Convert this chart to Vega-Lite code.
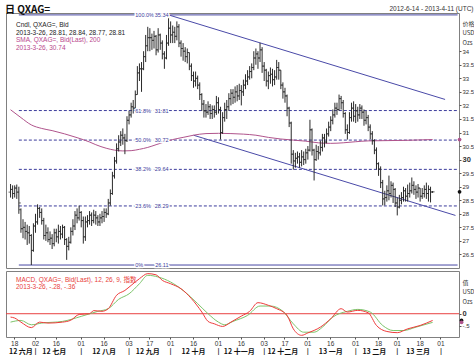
{
"$schema": "https://vega.github.io/schema/vega-lite/v6.json",
"padding": {"left": 5, "top": 4, "right": 0, "bottom": 0},
"background": "white",
"spacing": 0,
"title": {"text": "日 QXAG=", "anchor": "start", "fontSize": 10, "fontWeight": "bold", "font": "Noto Sans CJK SC", "color": "#111", "offset": -10},
"datasets": {
"bars": [
{"d":"2012-06-14","o":28.80,"h":29.10,"l":28.60,"c":28.90},
{"d":"2012-06-15","o":28.90,"h":29.05,"l":28.55,"c":28.75},
{"d":"2012-06-18","o":28.75,"h":29.05,"l":28.60,"c":28.95},
{"d":"2012-06-19","o":28.95,"h":29.08,"l":28.55,"c":28.80},
{"d":"2012-06-20","o":28.80,"h":29.00,"l":28.00,"c":28.40},
{"d":"2012-06-21","o":28.15,"h":28.20,"l":27.30,"c":27.45},
{"d":"2012-06-22","o":27.45,"h":27.80,"l":27.10,"c":27.50},
{"d":"2012-06-25","o":27.50,"h":27.70,"l":27.05,"c":27.35},
{"d":"2012-06-26","o":27.35,"h":27.60,"l":26.85,"c":27.30},
{"d":"2012-06-27","o":27.30,"h":27.55,"l":26.90,"c":27.20},
{"d":"2012-06-28","o":27.20,"h":27.25,"l":26.11,"c":26.65},
{"d":"2012-06-29","o":26.65,"h":27.65,"l":26.60,"c":27.55},
{"d":"2012-07-02","o":27.55,"h":28.00,"l":27.30,"c":27.70},
{"d":"2012-07-03","o":27.70,"h":28.35,"l":27.60,"c":28.20},
{"d":"2012-07-04","o":28.20,"h":28.25,"l":27.85,"c":28.05},
{"d":"2012-07-05","o":28.05,"h":28.20,"l":27.60,"c":27.75},
{"d":"2012-07-06","o":27.75,"h":27.85,"l":27.05,"c":27.20},
{"d":"2012-07-09","o":27.20,"h":27.60,"l":27.00,"c":27.30},
{"d":"2012-07-10","o":27.30,"h":27.50,"l":26.95,"c":27.05},
{"d":"2012-07-11","o":27.05,"h":27.35,"l":26.85,"c":27.10},
{"d":"2012-07-12","o":27.10,"h":27.25,"l":26.70,"c":26.90},
{"d":"2012-07-13","o":26.90,"h":27.45,"l":26.80,"c":27.30},
{"d":"2012-07-16","o":27.30,"h":27.45,"l":26.95,"c":27.15},
{"d":"2012-07-17","o":27.15,"h":27.60,"l":26.90,"c":27.35},
{"d":"2012-07-18","o":27.35,"h":27.55,"l":27.05,"c":27.25},
{"d":"2012-07-19","o":27.25,"h":27.60,"l":27.10,"c":27.50},
{"d":"2012-07-20","o":27.50,"h":27.55,"l":26.85,"c":27.05},
{"d":"2012-07-23","o":27.05,"h":27.10,"l":26.30,"c":26.80},
{"d":"2012-07-24","o":26.80,"h":27.15,"l":26.65,"c":26.95},
{"d":"2012-07-25","o":26.95,"h":27.50,"l":26.90,"c":27.35},
{"d":"2012-07-26","o":27.35,"h":27.80,"l":27.20,"c":27.55},
{"d":"2012-07-27","o":27.55,"h":28.10,"l":27.40,"c":27.95},
{"d":"2012-07-30","o":27.95,"h":28.20,"l":27.65,"c":27.85},
{"d":"2012-07-31","o":27.85,"h":28.30,"l":27.75,"c":28.05},
{"d":"2012-08-01","o":28.05,"h":28.10,"l":27.50,"c":27.75},
{"d":"2012-08-02","o":27.75,"h":27.90,"l":26.90,"c":27.15},
{"d":"2012-08-03","o":27.15,"h":27.90,"l":27.00,"c":27.70},
{"d":"2012-08-06","o":27.70,"h":27.95,"l":27.50,"c":27.75},
{"d":"2012-08-07","o":27.75,"h":28.10,"l":27.60,"c":27.95},
{"d":"2012-08-08","o":27.95,"h":28.05,"l":27.55,"c":27.75},
{"d":"2012-08-09","o":27.75,"h":28.15,"l":27.65,"c":27.95},
{"d":"2012-08-10","o":27.95,"h":28.10,"l":27.60,"c":27.85},
{"d":"2012-08-13","o":27.85,"h":27.95,"l":27.55,"c":27.70},
{"d":"2012-08-14","o":27.70,"h":28.00,"l":27.55,"c":27.85},
{"d":"2012-08-15","o":27.85,"h":28.10,"l":27.65,"c":27.90},
{"d":"2012-08-16","o":27.90,"h":28.20,"l":27.70,"c":28.05},
{"d":"2012-08-17","o":28.05,"h":28.20,"l":27.85,"c":28.00},
{"d":"2012-08-20","o":28.00,"h":28.55,"l":27.95,"c":28.40},
{"d":"2012-08-21","o":28.40,"h":28.90,"l":28.30,"c":28.75},
{"d":"2012-08-22","o":28.75,"h":29.55,"l":28.70,"c":29.40},
{"d":"2012-08-23","o":29.40,"h":30.10,"l":29.30,"c":29.95},
{"d":"2012-08-24","o":29.95,"h":30.60,"l":29.85,"c":30.40},
{"d":"2012-08-27","o":30.40,"h":30.90,"l":30.30,"c":30.65},
{"d":"2012-08-28","o":30.65,"h":31.05,"l":30.50,"c":30.90},
{"d":"2012-08-29","o":30.90,"h":31.15,"l":30.55,"c":30.80},
{"d":"2012-08-30","o":30.80,"h":30.95,"l":30.20,"c":30.70},
{"d":"2012-08-31","o":30.70,"h":31.60,"l":30.65,"c":31.45},
{"d":"2012-09-03","o":31.45,"h":31.80,"l":31.30,"c":31.65},
{"d":"2012-09-04","o":31.65,"h":32.10,"l":31.55,"c":31.95},
{"d":"2012-09-05","o":31.95,"h":32.20,"l":31.70,"c":31.90},
{"d":"2012-09-06","o":31.90,"h":32.55,"l":31.80,"c":32.40},
{"d":"2012-09-07","o":32.40,"h":33.45,"l":32.40,"c":33.20},
{"d":"2012-09-10","o":33.20,"h":33.55,"l":32.90,"c":33.35},
{"d":"2012-09-11","o":33.35,"h":33.60,"l":32.50,"c":33.35},
{"d":"2012-09-12","o":33.35,"h":34.00,"l":33.30,"c":33.80},
{"d":"2012-09-13","o":33.80,"h":34.60,"l":33.60,"c":34.20},
{"d":"2012-09-14","o":34.20,"h":34.90,"l":34.00,"c":34.50},
{"d":"2012-09-17","o":34.50,"h":34.85,"l":34.00,"c":34.50},
{"d":"2012-09-18","o":34.50,"h":34.65,"l":34.05,"c":34.40},
{"d":"2012-09-19","o":34.40,"h":34.75,"l":34.10,"c":34.55},
{"d":"2012-09-20","o":34.55,"h":34.60,"l":33.85,"c":34.05},
{"d":"2012-09-21","o":34.05,"h":34.85,"l":33.95,"c":34.60},
{"d":"2012-09-24","o":34.60,"h":34.65,"l":34.05,"c":34.30},
{"d":"2012-09-25","o":34.30,"h":34.40,"l":33.70,"c":33.90},
{"d":"2012-09-26","o":33.90,"h":34.00,"l":33.35,"c":33.75},
{"d":"2012-09-27","o":33.75,"h":34.60,"l":33.70,"c":34.30},
{"d":"2012-09-28","o":34.30,"h":35.34,"l":34.20,"c":34.85},
{"d":"2012-10-01","o":34.85,"h":35.10,"l":34.30,"c":34.60},
{"d":"2012-10-02","o":34.60,"h":34.95,"l":34.30,"c":34.70},
{"d":"2012-10-03","o":34.70,"h":34.90,"l":34.30,"c":34.55},
{"d":"2012-10-04","o":34.55,"h":35.10,"l":34.40,"c":34.90},
{"d":"2012-10-05","o":34.90,"h":35.00,"l":34.15,"c":34.30},
{"d":"2012-10-08","o":34.30,"h":34.40,"l":33.80,"c":34.10},
{"d":"2012-10-09","o":34.10,"h":34.30,"l":33.65,"c":34.00},
{"d":"2012-10-10","o":34.00,"h":34.15,"l":33.60,"c":33.80},
{"d":"2012-10-11","o":33.80,"h":34.10,"l":33.55,"c":33.95},
{"d":"2012-10-12","o":33.95,"h":33.95,"l":33.30,"c":33.45},
{"d":"2012-10-15","o":33.45,"h":33.55,"l":32.90,"c":33.10},
{"d":"2012-10-16","o":33.10,"h":33.25,"l":32.65,"c":32.90},
{"d":"2012-10-17","o":32.90,"h":33.25,"l":32.70,"c":33.00},
{"d":"2012-10-18","o":33.00,"h":33.10,"l":32.60,"c":32.75},
{"d":"2012-10-19","o":32.75,"h":32.85,"l":32.20,"c":32.40},
{"d":"2012-10-22","o":32.40,"h":32.45,"l":31.80,"c":32.05},
{"d":"2012-10-23","o":32.05,"h":32.20,"l":31.55,"c":31.80},
{"d":"2012-10-24","o":31.80,"h":32.05,"l":31.55,"c":31.75},
{"d":"2012-10-25","o":31.75,"h":32.15,"l":31.65,"c":31.95},
{"d":"2012-10-26","o":31.95,"h":32.05,"l":31.50,"c":31.70},
{"d":"2012-10-29","o":31.70,"h":32.00,"l":31.50,"c":31.85},
{"d":"2012-10-30","o":31.85,"h":32.00,"l":31.55,"c":31.75},
{"d":"2012-10-31","o":31.75,"h":32.35,"l":31.65,"c":32.10},
{"d":"2012-11-01","o":32.10,"h":32.30,"l":31.70,"c":31.85},
{"d":"2012-11-02","o":31.85,"h":31.95,"l":30.74,"c":31.00},
{"d":"2012-11-05","o":31.00,"h":31.75,"l":30.95,"c":31.55},
{"d":"2012-11-06","o":31.55,"h":32.10,"l":31.40,"c":31.85},
{"d":"2012-11-07","o":31.85,"h":32.20,"l":31.50,"c":31.95},
{"d":"2012-11-08","o":31.95,"h":32.45,"l":31.80,"c":32.25},
{"d":"2012-11-09","o":32.25,"h":32.60,"l":32.00,"c":32.45},
{"d":"2012-11-12","o":32.45,"h":32.60,"l":32.05,"c":32.30},
{"d":"2012-11-13","o":32.30,"h":32.70,"l":32.10,"c":32.50},
{"d":"2012-11-14","o":32.50,"h":32.75,"l":32.15,"c":32.35},
{"d":"2012-11-15","o":32.35,"h":32.80,"l":32.20,"c":32.55},
{"d":"2012-11-16","o":32.55,"h":32.75,"l":32.00,"c":32.50},
{"d":"2012-11-19","o":32.50,"h":32.95,"l":32.35,"c":32.75},
{"d":"2012-11-20","o":32.75,"h":33.15,"l":32.60,"c":32.90},
{"d":"2012-11-21","o":32.90,"h":33.30,"l":32.75,"c":33.05},
{"d":"2012-11-22","o":33.05,"h":33.45,"l":32.95,"c":33.25},
{"d":"2012-11-23","o":33.25,"h":33.55,"l":33.00,"c":33.40},
{"d":"2012-11-26","o":33.40,"h":34.00,"l":33.30,"c":33.75},
{"d":"2012-11-27","o":33.75,"h":34.10,"l":33.50,"c":33.90},
{"d":"2012-11-28","o":33.90,"h":34.00,"l":33.35,"c":33.75},
{"d":"2012-11-29","o":33.75,"h":34.31,"l":33.60,"c":34.05},
{"d":"2012-11-30","o":34.05,"h":34.15,"l":33.20,"c":33.45},
{"d":"2012-12-03","o":33.45,"h":33.60,"l":32.90,"c":33.30},
{"d":"2012-12-04","o":33.30,"h":33.35,"l":32.70,"c":32.90},
{"d":"2012-12-05","o":32.90,"h":33.25,"l":32.60,"c":33.10},
{"d":"2012-12-06","o":33.10,"h":33.40,"l":32.80,"c":33.15},
{"d":"2012-12-07","o":33.15,"h":33.35,"l":32.70,"c":32.95},
{"d":"2012-12-10","o":32.95,"h":33.30,"l":32.75,"c":33.05},
{"d":"2012-12-11","o":33.05,"h":33.68,"l":32.95,"c":33.40},
{"d":"2012-12-12","o":33.40,"h":33.60,"l":32.95,"c":33.30},
{"d":"2012-12-13","o":33.30,"h":33.30,"l":32.60,"c":32.75},
{"d":"2012-12-14","o":32.75,"h":32.85,"l":32.25,"c":32.50},
{"d":"2012-12-17","o":32.50,"h":32.65,"l":32.10,"c":32.35},
{"d":"2012-12-18","o":32.35,"h":32.40,"l":31.60,"c":31.90},
{"d":"2012-12-19","o":31.90,"h":31.95,"l":31.20,"c":31.35},
{"d":"2012-12-20","o":31.35,"h":31.40,"l":29.85,"c":30.20},
{"d":"2012-12-21","o":30.20,"h":30.35,"l":29.63,"c":29.95},
{"d":"2012-12-24","o":29.95,"h":30.25,"l":29.70,"c":30.05},
{"d":"2012-12-25","o":30.05,"h":30.30,"l":29.85,"c":30.10},
{"d":"2012-12-26","o":30.10,"h":30.25,"l":29.70,"c":29.90},
{"d":"2012-12-27","o":29.90,"h":30.35,"l":29.75,"c":30.10},
{"d":"2012-12-28","o":30.10,"h":30.30,"l":29.80,"c":30.00},
{"d":"2012-12-31","o":30.00,"h":30.40,"l":29.85,"c":30.25},
{"d":"2013-01-01","o":30.25,"h":30.50,"l":30.00,"c":30.35},
{"d":"2013-01-02","o":30.35,"h":31.47,"l":30.30,"c":31.10},
{"d":"2013-01-03","o":31.10,"h":31.15,"l":30.15,"c":30.35},
{"d":"2013-01-04","o":30.35,"h":30.40,"l":29.23,"c":30.00},
{"d":"2013-01-07","o":30.00,"h":30.55,"l":29.95,"c":30.30},
{"d":"2013-01-08","o":30.30,"h":30.50,"l":30.00,"c":30.25},
{"d":"2013-01-09","o":30.25,"h":30.70,"l":30.15,"c":30.45},
{"d":"2013-01-10","o":30.45,"h":30.95,"l":30.30,"c":30.80},
{"d":"2013-01-11","o":30.80,"h":30.95,"l":30.45,"c":30.65},
{"d":"2013-01-14","o":30.65,"h":31.15,"l":30.60,"c":30.95},
{"d":"2013-01-15","o":30.95,"h":31.40,"l":30.85,"c":31.20},
{"d":"2013-01-16","o":31.20,"h":31.60,"l":31.05,"c":31.45},
{"d":"2013-01-17","o":31.45,"h":31.85,"l":31.30,"c":31.65},
{"d":"2013-01-18","o":31.65,"h":32.10,"l":31.55,"c":31.90},
{"d":"2013-01-21","o":31.90,"h":32.10,"l":31.65,"c":31.85},
{"d":"2013-01-22","o":31.85,"h":32.40,"l":31.80,"c":32.25},
{"d":"2013-01-23","o":32.25,"h":32.35,"l":31.85,"c":32.10},
{"d":"2013-01-24","o":32.10,"h":32.20,"l":31.55,"c":31.70},
{"d":"2013-01-25","o":31.70,"h":31.75,"l":30.95,"c":31.10},
{"d":"2013-01-28","o":31.10,"h":31.30,"l":30.74,"c":31.00},
{"d":"2013-01-29","o":31.00,"h":31.75,"l":30.95,"c":31.55},
{"d":"2013-01-30","o":31.55,"h":32.10,"l":31.40,"c":31.90},
{"d":"2013-01-31","o":31.90,"h":32.15,"l":31.40,"c":31.60},
{"d":"2013-02-01","o":31.60,"h":32.05,"l":31.35,"c":31.80},
{"d":"2013-02-04","o":31.80,"h":31.95,"l":31.40,"c":31.65},
{"d":"2013-02-05","o":31.65,"h":32.05,"l":31.50,"c":31.90},
{"d":"2013-02-06","o":31.90,"h":32.00,"l":31.50,"c":31.75},
{"d":"2013-02-07","o":31.75,"h":31.85,"l":31.25,"c":31.45},
{"d":"2013-02-08","o":31.45,"h":31.80,"l":31.30,"c":31.55},
{"d":"2013-02-11","o":31.55,"h":31.65,"l":31.05,"c":31.20},
{"d":"2013-02-12","o":31.20,"h":31.30,"l":30.75,"c":30.95},
{"d":"2013-02-13","o":30.95,"h":31.05,"l":30.55,"c":30.70},
{"d":"2013-02-14","o":30.70,"h":30.75,"l":30.20,"c":30.35},
{"d":"2013-02-15","o":30.35,"h":30.45,"l":29.63,"c":29.85},
{"d":"2013-02-18","o":29.85,"h":29.90,"l":29.40,"c":29.65},
{"d":"2013-02-19","o":29.65,"h":29.75,"l":28.95,"c":29.15},
{"d":"2013-02-20","o":29.15,"h":29.25,"l":28.31,"c":28.55},
{"d":"2013-02-21","o":28.55,"h":28.85,"l":28.31,"c":28.60},
{"d":"2013-02-22","o":28.60,"h":29.05,"l":28.45,"c":28.85},
{"d":"2013-02-25","o":28.85,"h":29.41,"l":28.50,"c":28.75},
{"d":"2013-02-26","o":28.75,"h":29.20,"l":28.60,"c":29.05},
{"d":"2013-02-27","o":29.05,"h":29.15,"l":28.40,"c":28.90},
{"d":"2013-02-28","o":28.90,"h":28.95,"l":28.25,"c":28.40},
{"d":"2013-03-01","o":28.40,"h":28.60,"l":27.94,"c":28.25},
{"d":"2013-03-04","o":28.25,"h":28.70,"l":28.20,"c":28.50},
{"d":"2013-03-05","o":28.50,"h":28.80,"l":28.35,"c":28.60},
{"d":"2013-03-06","o":28.60,"h":29.00,"l":28.45,"c":28.85},
{"d":"2013-03-07","o":28.85,"h":28.95,"l":28.45,"c":28.65},
{"d":"2013-03-08","o":28.65,"h":29.08,"l":28.45,"c":28.75},
{"d":"2013-03-11","o":28.75,"h":29.15,"l":28.60,"c":28.85},
{"d":"2013-03-12","o":28.85,"h":29.34,"l":28.75,"c":29.05},
{"d":"2013-03-13","o":29.05,"h":29.20,"l":28.70,"c":28.90},
{"d":"2013-03-14","o":28.90,"h":29.05,"l":28.55,"c":28.80},
{"d":"2013-03-15","o":28.80,"h":29.10,"l":28.60,"c":28.95},
{"d":"2013-03-18","o":28.95,"h":28.95,"l":28.45,"c":28.65},
{"d":"2013-03-19","o":28.65,"h":28.95,"l":28.55,"c":28.75},
{"d":"2013-03-20","o":28.75,"h":29.05,"l":28.60,"c":28.90},
{"d":"2013-03-21","o":28.90,"h":29.15,"l":28.55,"c":28.75},
{"d":"2013-03-22","o":28.75,"h":29.05,"l":28.45,"c":28.90},
{"d":"2013-03-25","o":28.90,"h":29.00,"l":28.42,"c":28.80},
{"d":"2013-03-26","o":28.81,"h":28.84,"l":28.77,"c":28.81}
],
"sma": [
{"d":"2012-06-14","v":31.84},{"d":"2012-06-21","v":31.55},{"d":"2012-06-28","v":31.28},{"d":"2012-07-05","v":31.15},
{"d":"2012-07-12","v":31.07},{"d":"2012-07-20","v":30.95},{"d":"2012-07-30","v":30.81},{"d":"2012-08-07","v":30.65},
{"d":"2012-08-10","v":30.55},{"d":"2012-08-17","v":30.42},{"d":"2012-08-23","v":30.35},{"d":"2012-08-29","v":30.32},
{"d":"2012-09-04","v":30.33},{"d":"2012-09-10","v":30.38},{"d":"2012-09-14","v":30.45},{"d":"2012-09-20","v":30.55},
{"d":"2012-09-26","v":30.65},{"d":"2012-10-02","v":30.74},{"d":"2012-10-09","v":30.82},{"d":"2012-10-16","v":30.90},
{"d":"2012-10-24","v":30.96},{"d":"2012-11-01","v":30.97},{"d":"2012-11-09","v":30.96},{"d":"2012-11-19","v":30.94},
{"d":"2012-11-27","v":30.90},{"d":"2012-12-05","v":30.82},{"d":"2012-12-13","v":30.76},{"d":"2012-12-21","v":30.72},
{"d":"2012-12-31","v":30.68},{"d":"2013-01-08","v":30.62},{"d":"2013-01-16","v":30.60},{"d":"2013-01-24","v":30.62},
{"d":"2013-02-01","v":30.66},{"d":"2013-02-11","v":30.69},{"d":"2013-02-21","v":30.70},{"d":"2013-03-07","v":30.71},
{"d":"2013-03-26","v":30.74}
],
"fib": [
{"lvl":"100.0%","p":35.34,"st":"solid"},
{"lvl":"61.8%","p":31.81,"st":"dash"},
{"lvl":"50.0%","p":30.72,"st":"dash"},
{"lvl":"38.2%","p":29.64,"st":"dash"},
{"lvl":"23.6%","p":28.29,"st":"dash"},
{"lvl":"0%","p":26.11,"st":"solid"}
],
"chan": [
{"d1":"2012-09-28","p1":35.34,"d2":"2013-04-03","p2":32.22},
{"d1":"2012-10-16","p1":30.90,"d2":"2013-04-10","p2":27.94}
],
"lastp": [{"s":"c","v":28.81},{"s":"sma","v":30.74}],
"lastm": [{"s":"macd","v":-0.28},{"s":"sig","v":-0.36}],
"macd": [
{"d":"2012-06-14","v":-0.14},{"d":"2012-06-18","v":-0.18},{"d":"2012-06-21","v":-0.35},{"d":"2012-06-28","v":-0.58},
{"d":"2012-07-04","v":-0.35},{"d":"2012-07-10","v":-0.39},{"d":"2012-07-19","v":-0.35},{"d":"2012-07-25","v":-0.27},
{"d":"2012-07-31","v":-0.03},{"d":"2012-08-07","v":0.0},{"d":"2012-08-09","v":0.13},{"d":"2012-08-15","v":0.10},
{"d":"2012-08-20","v":0.21},{"d":"2012-08-24","v":0.77},{"d":"2012-08-30","v":0.97},{"d":"2012-09-04","v":1.18},
{"d":"2012-09-10","v":1.46},{"d":"2012-09-14","v":1.67},{"d":"2012-09-20","v":1.62},{"d":"2012-09-25","v":1.39},
{"d":"2012-10-01","v":1.25},{"d":"2012-10-08","v":1.04},{"d":"2012-10-15","v":0.63},{"d":"2012-10-22","v":0.07},
{"d":"2012-10-25","v":-0.32},{"d":"2012-10-30","v":-0.42},{"d":"2012-11-05","v":-0.53},{"d":"2012-11-09","v":-0.35},
{"d":"2012-11-16","v":-0.10},{"d":"2012-11-22","v":0.10},{"d":"2012-11-28","v":0.46},{"d":"2012-12-05","v":0.35},
{"d":"2012-12-11","v":0.21},{"d":"2012-12-18","v":-0.07},{"d":"2012-12-21","v":-0.63},{"d":"2012-12-27","v":-0.90},
{"d":"2013-01-01","v":-0.80},{"d":"2013-01-09","v":-0.56},{"d":"2013-01-16","v":-0.21},{"d":"2013-01-23","v":0.21},
{"d":"2013-01-28","v":0.07},{"d":"2013-02-04","v":0.14},{"d":"2013-02-11","v":0.04},{"d":"2013-02-15","v":-0.49},
{"d":"2013-02-22","v":-0.74},{"d":"2013-03-01","v":-0.79},{"d":"2013-03-08","v":-0.63},{"d":"2013-03-18","v":-0.49},
{"d":"2013-03-26","v":-0.28}
],
"sig": [
{"d":"2012-06-14","v":-0.35},{"d":"2012-06-21","v":-0.28},{"d":"2012-06-28","v":-0.46},{"d":"2012-07-05","v":-0.39},
{"d":"2012-07-19","v":-0.32},{"d":"2012-08-01","v":-0.11},{"d":"2012-08-13","v":0.10},{"d":"2012-08-20","v":0.21},
{"d":"2012-08-27","v":0.60},{"d":"2012-09-03","v":0.83},{"d":"2012-09-10","v":1.25},{"d":"2012-09-14","v":1.60},
{"d":"2012-09-21","v":1.53},{"d":"2012-10-01","v":1.32},{"d":"2012-10-09","v":0.97},{"d":"2012-10-18","v":0.42},
{"d":"2012-10-25","v":0.0},{"d":"2012-11-01","v":-0.35},{"d":"2012-11-06","v":-0.46},{"d":"2012-11-12","v":-0.32},
{"d":"2012-11-21","v":-0.07},{"d":"2012-11-29","v":0.32},{"d":"2012-12-06","v":0.32},{"d":"2012-12-14","v":0.10},
{"d":"2012-12-21","v":-0.42},{"d":"2012-12-28","v":-0.77},{"d":"2013-01-04","v":-0.77},{"d":"2013-01-10","v":-0.56},
{"d":"2013-01-17","v":-0.14},{"d":"2013-01-28","v":0.10},{"d":"2013-02-04","v":0.18},{"d":"2013-02-12","v":0.07},
{"d":"2013-02-20","v":-0.49},{"d":"2013-02-27","v":-0.70},{"d":"2013-03-06","v":-0.70},{"d":"2013-03-14","v":-0.56},
{"d":"2013-03-26","v":-0.36}
]
},
"vconcat": [
{
"width": 453, "height": 255,
"title": {"text": ["Cndl, QXAG=, Bid", "2013-3-26, 28.81, 28.84, 28.77, 28.81"], "subtitle": ["SMA, QXAG=, Bid(Last), 200", "2013-3-26, 30.74"], "anchor": "start", "frame": "group", "offset": -46, "dx": 10, "fontSize": 6.5, "fontWeight": "normal", "color": "#222", "subtitleFontSize": 6.5, "subtitleColor": "#b8468c", "lineHeight": 8, "subtitleLineHeight": 8, "subtitlePadding": 0, "font": "Liberation Sans", "subtitleFont": "Liberation Sans"},
"encoding": {"x": {"field": "d", "type": "ordinal",
  "scale": {"range": [3.5, 452.6], "padding": 0, "domain": ["2012-06-14","2012-06-15","2012-06-18","2012-06-19","2012-06-20","2012-06-21","2012-06-22","2012-06-25","2012-06-26","2012-06-27","2012-06-28","2012-06-29","2012-07-02","2012-07-03","2012-07-04","2012-07-05","2012-07-06","2012-07-09","2012-07-10","2012-07-11","2012-07-12","2012-07-13","2012-07-16","2012-07-17","2012-07-18","2012-07-19","2012-07-20","2012-07-23","2012-07-24","2012-07-25","2012-07-26","2012-07-27","2012-07-30","2012-07-31","2012-08-01","2012-08-02","2012-08-03","2012-08-06","2012-08-07","2012-08-08","2012-08-09","2012-08-10","2012-08-13","2012-08-14","2012-08-15","2012-08-16","2012-08-17","2012-08-20","2012-08-21","2012-08-22","2012-08-23","2012-08-24","2012-08-27","2012-08-28","2012-08-29","2012-08-30","2012-08-31","2012-09-03","2012-09-04","2012-09-05","2012-09-06","2012-09-07","2012-09-10","2012-09-11","2012-09-12","2012-09-13","2012-09-14","2012-09-17","2012-09-18","2012-09-19","2012-09-20","2012-09-21","2012-09-24","2012-09-25","2012-09-26","2012-09-27","2012-09-28","2012-10-01","2012-10-02","2012-10-03","2012-10-04","2012-10-05","2012-10-08","2012-10-09","2012-10-10","2012-10-11","2012-10-12","2012-10-15","2012-10-16","2012-10-17","2012-10-18","2012-10-19","2012-10-22","2012-10-23","2012-10-24","2012-10-25","2012-10-26","2012-10-29","2012-10-30","2012-10-31","2012-11-01","2012-11-02","2012-11-05","2012-11-06","2012-11-07","2012-11-08","2012-11-09","2012-11-12","2012-11-13","2012-11-14","2012-11-15","2012-11-16","2012-11-19","2012-11-20","2012-11-21","2012-11-22","2012-11-23","2012-11-26","2012-11-27","2012-11-28","2012-11-29","2012-11-30","2012-12-03","2012-12-04","2012-12-05","2012-12-06","2012-12-07","2012-12-10","2012-12-11","2012-12-12","2012-12-13","2012-12-14","2012-12-17","2012-12-18","2012-12-19","2012-12-20","2012-12-21","2012-12-24","2012-12-25","2012-12-26","2012-12-27","2012-12-28","2012-12-31","2013-01-01","2013-01-02","2013-01-03","2013-01-04","2013-01-07","2013-01-08","2013-01-09","2013-01-10","2013-01-11","2013-01-14","2013-01-15","2013-01-16","2013-01-17","2013-01-18","2013-01-21","2013-01-22","2013-01-23","2013-01-24","2013-01-25","2013-01-28","2013-01-29","2013-01-30","2013-01-31","2013-02-01","2013-02-04","2013-02-05","2013-02-06","2013-02-07","2013-02-08","2013-02-11","2013-02-12","2013-02-13","2013-02-14","2013-02-15","2013-02-18","2013-02-19","2013-02-20","2013-02-21","2013-02-22","2013-02-25","2013-02-26","2013-02-27","2013-02-28","2013-03-01","2013-03-04","2013-03-05","2013-03-06","2013-03-07","2013-03-08","2013-03-11","2013-03-12","2013-03-13","2013-03-14","2013-03-15","2013-03-18","2013-03-19","2013-03-20","2013-03-21","2013-03-22","2013-03-25","2013-03-26","2013-03-27","2013-03-28","2013-03-29","2013-04-01","2013-04-02","2013-04-03","2013-04-04","2013-04-05","2013-04-08","2013-04-09","2013-04-10","2013-04-11"]},
  "axis": {"orient": "top", "title": "2012-6-14 - 2013-4-11 (UTC)", "labels": false, "ticks": false, "domain": false, "titleFontSize": 6.5, "titleFontWeight": "normal", "titleFont": "Liberation Sans", "titleColor": "#333", "titleAnchor": "end", "titleAlign": "right", "titleBaseline": "alphabetic", "titleX": 467, "titleY": -3}}},
"layer": [
{"data": {"name": "fib"}, "mark": {"type": "rule", "color": "#3c3c9c", "strokeWidth": 1},
 "encoding": {"x": {"datum": "2012-06-20", "type": "ordinal"}, "x2": {"datum": "2013-04-11"},
  "y": {"field": "p", "type": "quantitative", "scale": {"domain": [26.0, 35.41], "nice": false, "zero": false},
   "axis": {"orient": "right", "values": [26.5,27,27.5,28,28.5,29,29.5,30,30.5,31,31.5,32,32.5,33,33.5,34], "tickCount": 40, "format": ".1~f", "labelOverlap": false, "title": ["价格","USD","Ozs"], "titleAngle": 0, "titleAlign": "left", "titleBaseline": "top", "titleX": 3, "titleY": 7, "titleFontSize": 6, "titleFontWeight": "normal", "titleLineHeight": 9.5, "titleColor": "#333", "titleFont": "Noto Sans CJK SC", "labelFont": "Liberation Sans", "labelColor": "#333", "labelFontSize": {"condition": {"test": "datum.value == 30", "value": 7.5}, "value": 6}, "labelFontWeight": {"condition": {"test": "datum.value == 30", "value": "bold"}, "value": "normal"}, "tickSize": 2, "tickColor": "#555", "labelPadding": 1, "domain": false, "grid": false}},
  "strokeDash": {"field": "st", "type": "nominal", "scale": {"domain": ["solid","dash"], "range": [[1,0],[3,2]]}, "legend": null}}},
{"data": {"name": "chan"}, "mark": {"type": "rule", "color": "#4a4aa8", "strokeWidth": 1},
 "encoding": {"x": {"field": "d1", "type": "ordinal"}, "x2": {"field": "d2"}, "y": {"field": "p1", "type": "quantitative"}, "y2": {"field": "p2"}}},
{"data": {"name": "sma"}, "mark": {"type": "line", "color": "#b0548c", "strokeWidth": 1, "interpolate": "monotone"},
 "encoding": {"y": {"field": "v", "type": "quantitative"}}},
{"data": {"name": "bars"}, "mark": {"type": "rule", "color": "#2a2a2a", "strokeWidth": 1},
 "encoding": {"y": {"field": "l", "type": "quantitative"}, "y2": {"field": "h"}}},
{"data": {"name": "bars"}, "mark": {"type": "tick", "color": "#2a2a2a", "size": 2, "thickness": 1, "xOffset": -1, "orient": "horizontal"},
 "encoding": {"y": {"field": "o", "type": "quantitative"}}},
{"data": {"name": "bars"}, "mark": {"type": "tick", "color": "#2a2a2a", "size": 2, "thickness": 1, "xOffset": 1, "orient": "horizontal"},
 "encoding": {"y": {"field": "c", "type": "quantitative"}}},
{"data": {"name": "fib"}, "mark": {"type": "text", "align": "left", "baseline": "middle", "fontSize": 5.5, "font": "Liberation Sans", "color": "white", "stroke": "white", "strokeWidth": 2.5},
 "encoding": {"x": {"datum": "2012-09-06", "type": "ordinal"}, "y": {"field": "p", "type": "quantitative"}, "text": {"field": "lvl"}}},
{"data": {"name": "fib"}, "mark": {"type": "text", "align": "left", "baseline": "middle", "fontSize": 5.5, "font": "Liberation Sans", "color": "#3c3c9c"},
 "encoding": {"x": {"datum": "2012-09-06", "type": "ordinal"}, "y": {"field": "p", "type": "quantitative"}, "text": {"field": "lvl"}}},
{"data": {"name": "fib"}, "mark": {"type": "text", "align": "right", "baseline": "middle", "fontSize": 5.5, "font": "Liberation Sans", "color": "white", "stroke": "white", "strokeWidth": 2.5},
 "encoding": {"x": {"datum": "2012-09-28", "type": "ordinal"}, "y": {"field": "p", "type": "quantitative"}, "text": {"field": "p", "type": "quantitative", "format": ".2f"}}},
{"data": {"name": "fib"}, "mark": {"type": "text", "align": "right", "baseline": "middle", "fontSize": 5.5, "font": "Liberation Sans", "color": "#3c3c9c"},
 "encoding": {"x": {"datum": "2012-09-28", "type": "ordinal"}, "y": {"field": "p", "type": "quantitative"}, "text": {"field": "p", "type": "quantitative", "format": ".2f"}}},
{"data": {"name": "lastp"}, "mark": {"type": "point", "filled": true, "size": 14, "opacity": 1, "xOffset": 2},
 "encoding": {"x": {"datum": "2013-04-11", "type": "ordinal"}, "y": {"field": "v", "type": "quantitative"}, "color": {"field": "s", "type": "nominal", "scale": {"domain": ["c","sma"], "range": ["#111111","#b0548c"]}, "legend": null}}}
]
},
{
"width": 453, "height": 66,
"title": {"text": "MACD, QXAG=, Bid(Last), 12, 26, 9, 指数", "subtitle": "2013-3-26, -.28, -.36", "anchor": "start", "frame": "group", "offset": -19, "dx": 10, "fontSize": 6.5, "fontWeight": "normal", "color": "#e8403a", "subtitleFontSize": 6.5, "subtitleColor": "#e8403a", "lineHeight": 8, "subtitleLineHeight": 8, "subtitlePadding": 0, "font": "Liberation Sans, Noto Sans CJK SC", "subtitleFont": "Liberation Sans"},
"layer": [
{"data": {"values": [{}]}, "mark": {"type": "rule", "color": "#e84040", "strokeWidth": 1},
 "encoding": {"y": {"datum": 0, "type": "quantitative", "scale": {"domain": [-0.97, 1.78], "nice": false, "zero": false},
  "axis": {"orient": "right", "values": [0, -0.5], "tickCount": 10, "labelOverlap": false, "labelExpr": "datum.value == 0 ? '0' : '-.5'", "title": ["值","USD","Ozs"], "titleAngle": 0, "titleAlign": "left", "titleBaseline": "top", "titleX": 3, "titleY": 8, "titleFontSize": 6, "titleFontWeight": "normal", "titleLineHeight": 9.5, "titleColor": "#333", "titleFont": "Noto Sans CJK SC", "labelFont": "Liberation Sans", "labelColor": "#333", "labelFontSize": {"condition": {"test": "datum.value == 0", "value": 7.5}, "value": 6}, "labelFontWeight": {"condition": {"test": "datum.value == 0", "value": "bold"}, "value": "normal"}, "tickSize": 2, "tickColor": "#555", "labelPadding": 1, "domain": false, "grid": false}}}},
{"data": {"name": "sig"}, "mark": {"type": "line", "color": "#7cc46a", "strokeWidth": 1, "interpolate": "monotone"},
 "encoding": {"x": {"field": "d", "type": "ordinal",
   "axis": {"orient": "bottom", "offset": 10, "values": ["2012-06-21","2012-07-02","2012-07-13","2012-08-01","2012-08-16","2012-09-03","2012-09-14","2012-10-01","2012-10-16","2012-11-01","2012-11-15","2012-12-03","2012-12-14","2013-01-01","2013-01-16","2013-02-01","2013-02-14","2013-03-01","2013-03-15","2013-04-01"],
    "labelExpr": "toNumber(slice(datum.value,8,10)) <= 3 ? '|' : slice(datum.value,2,4) + ' ' + ['一月','二月','三月','四月','五月','六月','七月','八月','九月','十月','十一月','十二月'][toNumber(slice(datum.value,5,7))-1]",
    "title": null, "domain": false, "ticks": false, "labelAngle": 0, "labelAlign": "center", "labelBaseline": "top", "labelFontSize": 7, "labelFontWeight": "bold", "labelColor": "#111", "labelFont": "Noto Sans CJK SC", "labelPadding": 0, "labelOverlap": false}},
  "y": {"field": "v", "type": "quantitative"}}},
{"data": {"name": "macd"}, "mark": {"type": "line", "color": "#ee3b3b", "strokeWidth": 1, "interpolate": "monotone"},
 "encoding": {"x": {"field": "d", "type": "ordinal",
   "axis": {"orient": "bottom", "values": ["2012-06-18","2012-07-02","2012-07-16","2012-08-01","2012-08-16","2012-09-03","2012-09-17","2012-10-01","2012-10-16","2012-11-01","2012-11-16","2012-12-03","2012-12-17","2013-01-01","2013-01-16","2013-02-01","2013-02-18","2013-03-01","2013-03-18","2013-04-01"],
    "labelExpr": "slice(datum.value,8,10)", "title": null, "domain": false, "ticks": true, "tickSize": 2, "tickColor": "#555", "labelAngle": 0, "labelAlign": "center", "labelBaseline": "top", "labelFontSize": 6.5, "labelColor": "#333", "labelFont": "Liberation Sans", "labelPadding": 1, "labelOverlap": false}},
  "y": {"field": "v", "type": "quantitative"}}},
{"data": {"name": "lastm"}, "mark": {"type": "point", "filled": true, "size": 14, "opacity": 1, "xOffset": 4},
 "encoding": {"x": {"datum": "2013-04-11", "type": "ordinal", "axis": null}, "y": {"field": "v", "type": "quantitative"}, "color": {"field": "s", "type": "nominal", "scale": {"domain": ["macd","sig"], "range": ["#ee3b3b","#4caf3c"]}, "legend": null}}}
],
"resolve": {"axis": {"x": "independent"}}
}
],
"resolve": {"scale": {"x": "shared"}},
"config": {
"view": {"stroke": "#808080", "strokeWidth": 1},
"font": "Liberation Sans",
"axis": {"grid": false, "labelOverlap": false}
}
}
